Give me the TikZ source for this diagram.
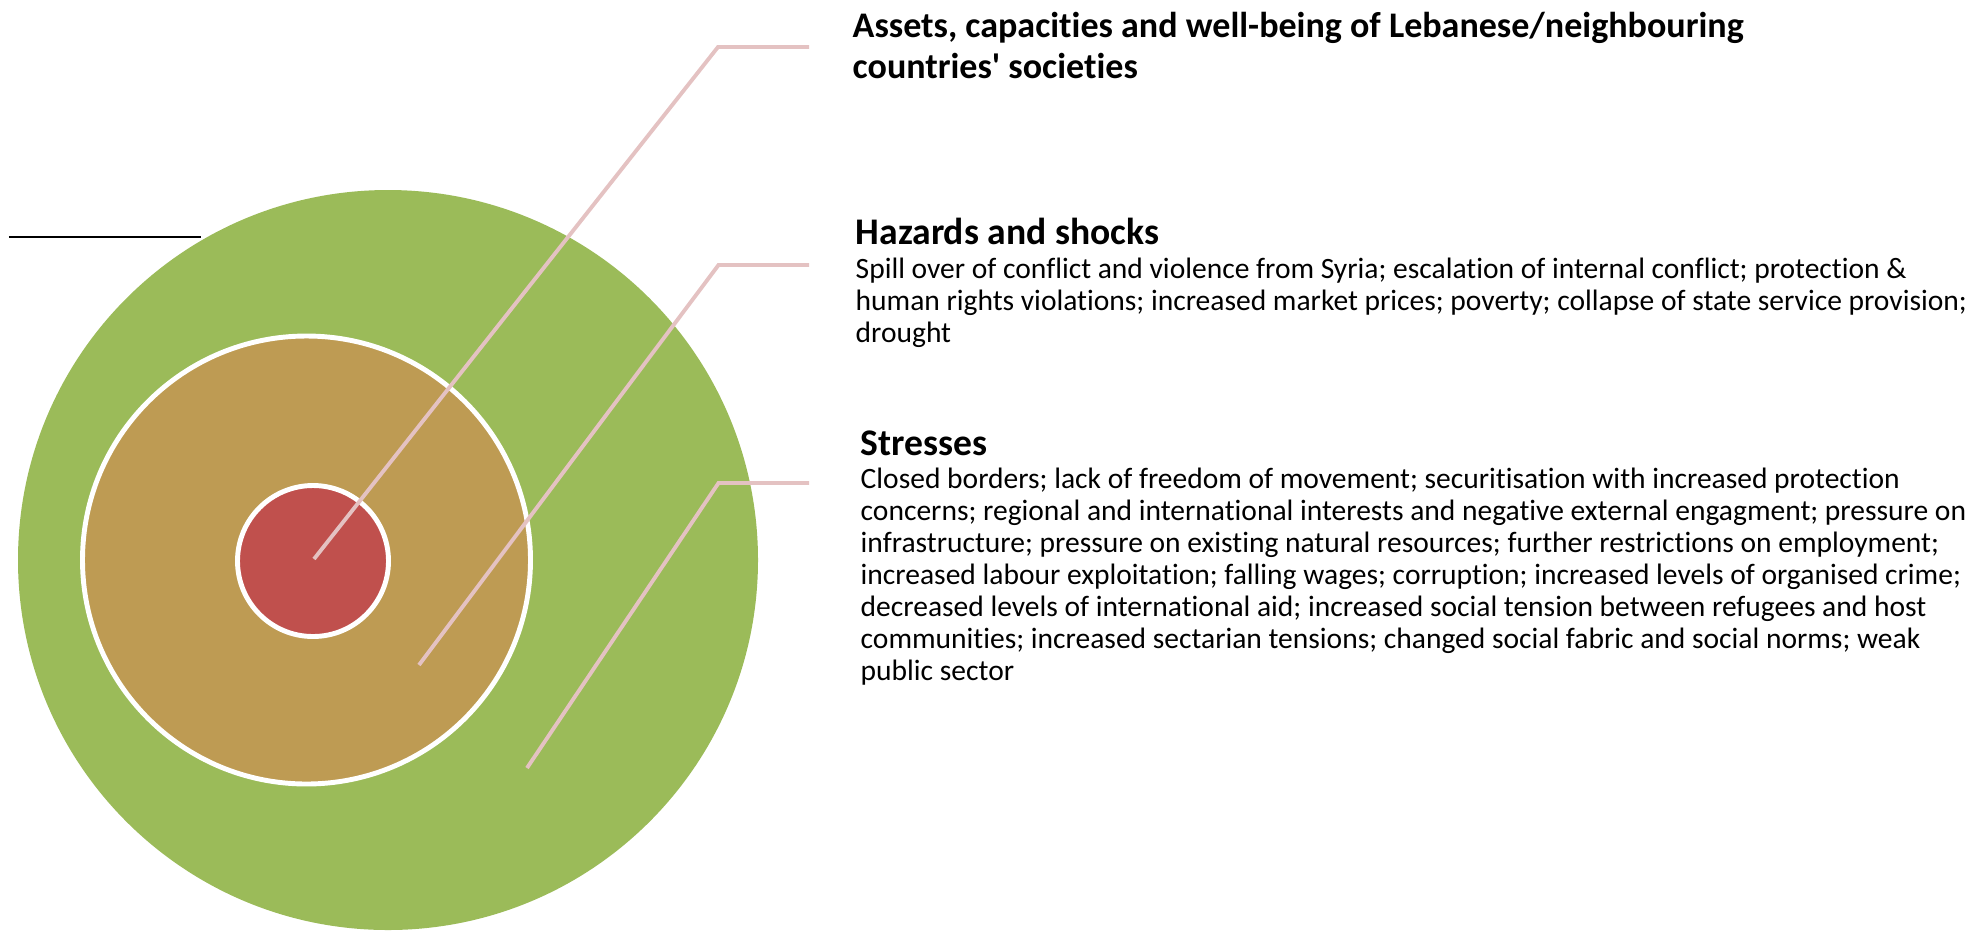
\documentclass[tikz,border=0pt]{standalone}
\usepackage{fontspec}
\setmainfont{Carlito}[Ligatures={TeX,NoCommon}]
\usetikzlibrary{calc}
\definecolor{outergreen}{RGB}{155,187,89}
\definecolor{midbrown}{RGB}{190,155,83}
\definecolor{innerred}{RGB}{192,80,77}
\definecolor{leaderpink}{RGB}{228,194,194}
\tikzset{
	leader/.style={draw=leaderpink, line width=1.1pt},
	ring/.style={draw=white, line width=1.4pt},
	% base west sits on the last line of a node
	headtext/.style={anchor=base west, inner sep=0pt, align=left, font=\fontsize{10.7}{11.5}\selectfont\bfseries},
	titletext/.style={headtext, font=\fontsize{10.25}{11.5}\selectfont\bfseries},
	bodytext/.style={anchor=base west, inner sep=0pt, align=left, font=\fontsize{8.4}{9.1}\selectfont},
}

\begin{document}
\begin{tikzpicture}
		%%%%% START %%%%%
		\useasboundingbox (0, 0) rectangle (19.87, 9.31);
		
		\draw[line width=0.6pt] (0.09, 6.94) -- (2.01, 6.94);
		
		\fill[outergreen] (3.88, 3.71) circle (3.70);
		\draw[ring, fill=midbrown] (3.065, 3.71) circle (2.24);
		\draw[ring, fill=innerred] (3.13, 3.70) circle (0.755);
		
		\coordinate (assetsend) at (3.14, 3.72);
		\coordinate (assetsknee) at (7.18, 8.84);
		\coordinate (assetstip) at (8.09, 8.84);
		\coordinate (hazardsend) at (4.19, 2.66);
		\coordinate (hazardsknee) at (7.185, 6.66);
		\coordinate (hazardstip) at (8.09, 6.66);
		\coordinate (stressend) at (5.27, 1.63);
		\coordinate (stressknee) at (7.185, 4.48);
		\coordinate (stresstip) at (8.09, 4.48);
		
		\draw[leader] (assetsend) -- (assetsknee) -- (assetstip);
		\draw[leader] (hazardsend) -- (hazardsknee) -- (hazardstip);
		\draw[leader] (stressend) -- (stressknee) -- (stresstip);
		
		\node[titletext] (assets) at (8.52, 8.53) {Assets, capacities and well-being of Lebanese/neighbouring\\countries\textquotesingle\ societies};
		
		\node[headtext] (hazards) at (8.55, 6.87) {Hazards and shocks};
		\node[bodytext] (hazardlist) at (8.55, 5.89) {Spill over of conflict and violence from Syria; escalation of internal conflict; protection \&\\
			human rights violations; increased market prices; poverty; collapse of state service provision;\\
			drought};
		
		\node[headtext] (stresses) at (8.60, 4.755) {Stresses};
		\node[bodytext] (stresslist) at (8.60, 2.51) {Closed borders; lack of freedom of movement; securitisation with increased protection\\
			concerns; regional and international interests and negative external engagment; pressure on\\
			infrastructure; pressure on existing natural resources; further restrictions on employment;\\
			increased labour exploitation; falling wages; corruption; increased levels of organised crime;\\
			decreased levels of international aid; increased social tension between refugees and host\\
			communities; increased sectarian tensions; changed social fabric and social norms; weak\\
			public sector};
		%%%%% END %%%%%
	\end{tikzpicture}
\end{document}
